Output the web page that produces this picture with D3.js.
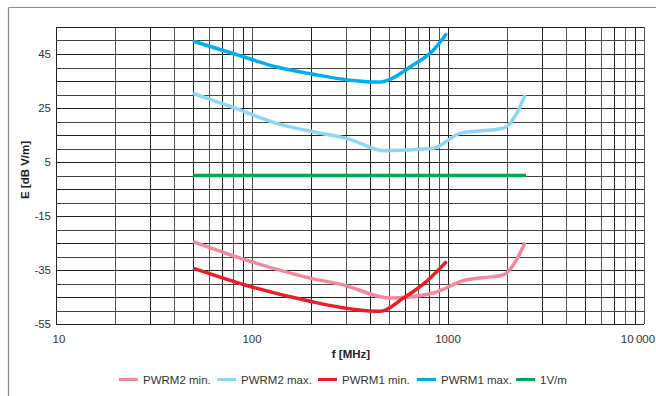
<!DOCTYPE html>
<html>
<head>
<meta charset="utf-8">
<script src="https://cdn.jsdelivr.net/npm/d3@7"></script>
<style>
  body { margin: 0; background: #fff; }
  text { font-family: "Liberation Sans", Arial, sans-serif; fill: #333; }
</style>
</head>
<body>
<svg id="chart" width="656" height="396"></svg>
<script>
// values (frequency in MHz, field strength in dB V/m)
var pwrm2MinF = [50, 98, 198, 292, 506, 841, 1200, 1910, 2240, 2470];
var pwrm2MinE = [-24.5, -31.8, -38.0, -40.5, -45.4, -43.5, -38.9, -36.8, -31.2, -24.8];

var pwrm2MaxF = [50, 80, 134, 205, 316, 468, 841, 1150, 1910, 2240, 2470];
var pwrm2MaxE = [30.4, 25.2, 19.3, 16.2, 13.4, 9.2, 10.1, 15.6, 17.5, 23.0, 29.8];

var pwrm1MinF = [50, 98, 198, 342, 450, 592, 778, 984];
var pwrm1MinE = [-34.3, -41.1, -46.6, -49.7, -50.3, -45.4, -39.2, -31.8];

var pwrm1MaxF = [50, 80, 134, 205, 316, 450, 506, 640, 841, 984];
var pwrm1MaxE = [49.8, 45.2, 40.2, 37.5, 35.3, 34.6, 35.6, 40.2, 46.4, 52.6];

var refF = [50, 2500];
var refE = [0, 0];

var xTickValues = [10, 100, 1000, 10000];
var xTickLabels = ["10", "100", "1000", "10\u2009000"];
var yTickValues = [45, 25, 5, -15, -35, -55];

var seriesNames = ["PWRM2 min.", "PWRM2 max.", "PWRM1 min.", "PWRM1 max.", "1V/m"];
var seriesColors = ["#f4889b", "#8dd6f6", "#ee1c25", "#00aeef", "#00a651"];

var svg = d3.select("#chart");

// frame (top and left only, as in the original)
svg.append("line").attr("x1", 8.5).attr("y1", 7.5).attr("x2", 656).attr("y2", 7.5)
   .attr("stroke", "#8a8a8a").attr("stroke-width", 1.2);
svg.append("line").attr("x1", 8.5).attr("y1", 7.5).attr("x2", 8.5).attr("y2", 396)
   .attr("stroke", "#8a8a8a").attr("stroke-width", 1.2);

var plotLeft = 56, plotRight = 644, plotTop = 27, plotBottom = 324;

var x = d3.scaleLog().domain([10, 10000]).range([plotLeft, plotRight]);
var y = d3.scaleLinear().domain([-55, 55]).range([plotBottom, plotTop]);

// grid
var grid = svg.append("g").attr("class", "grid");
var vLines = [];
[10, 100, 1000].forEach(function(dec) {
   for (var k = 1; k <= 9; k++) vLines.push(dec * k);
});
vLines.push(10000);

grid.selectAll(".v").data(vLines).enter().append("line")
   .attr("class", "v")
   .attr("x1", function(d) { return Math.round(x(d)) + 0.5; })
   .attr("x2", function(d) { return Math.round(x(d)) + 0.5; })
   .attr("y1", plotTop).attr("y2", plotBottom)
   .attr("stroke", function(d, i) { return i % 2 ? "#555" : "#222"; })
   .attr("stroke-width", 1);

grid.selectAll(".h").data(d3.range(-55, 56, 5)).enter().append("line")
   .attr("class", "h")
   .attr("y1", function(d) { return Math.round(y(d)) + 0.5; })
   .attr("y2", function(d) { return Math.round(y(d)) + 0.5; })
   .attr("x1", plotLeft).attr("x2", plotRight)
   .attr("stroke", function(d, i) { return i % 2 ? "#444" : "#222"; })
   .attr("stroke-width", 1);

// tick labels
svg.selectAll(".ylab").data(yTickValues).enter().append("text")
   .attr("class", "ylab")
   .attr("x", 51)
   .attr("y", function(d) { return y(d); })
   .attr("dy", "0.36em")
   .attr("text-anchor", "end")
   .style("font-size", "11.5px")
   .text(function(d) { return d; });

var xOffsets = [3, 0, 0, -6];
svg.selectAll(".xlab").data(xTickValues).enter().append("text")
   .attr("class", "xlab")
   .attr("x", function(d, i) { return x(d) + xOffsets[i]; })
   .attr("y", 343)
   .attr("text-anchor", "middle")
   .style("font-size", "11.5px")
   .text(function(d, i) { return xTickLabels[i]; });

// axis titles
svg.append("text")
   .attr("transform", "translate(29,170) rotate(-90)")
   .attr("text-anchor", "middle")
   .style("font-size", "11.5px").style("font-weight", "bold").style("fill", "#222")
   .text("E [dB V/m]");

svg.append("text")
   .attr("x", 351).attr("y", 358)
   .attr("text-anchor", "middle")
   .style("font-size", "11.5px").style("font-weight", "bold").style("fill", "#222")
   .text("f [MHz]");

// curves
var series = [
   { f: pwrm2MinF, e: pwrm2MinE },
   { f: pwrm2MaxF, e: pwrm2MaxE },
   { f: pwrm1MinF, e: pwrm1MinE },
   { f: pwrm1MaxF, e: pwrm1MaxE },
   { f: refF, e: refE }
];

var line = d3.line()
   .x(function(d) { return x(d[0]); })
   .y(function(d) { return y(d[1]); })
   .curve(d3.curveMonotoneX);

svg.selectAll(".curve").data(series).enter().append("path")
   .attr("class", "curve")
   .attr("fill", "none")
   .attr("stroke", function(d, i) { return seriesColors[i]; })
   .attr("stroke-width", 3.5)
   .attr("d", function(d) { return line(d.f.map(function(v, i) { return [v, d.e[i]]; })); });

// legend
var legendX = [119, 217, 318, 417, 516];
var legend = svg.selectAll(".legend").data(seriesNames).enter().append("g")
   .attr("class", "legend")
   .attr("transform", function(d, i) { return "translate(" + legendX[i] + ",379.5)"; });

legend.append("line")
   .attr("x1", 0).attr("x2", 19).attr("y1", 0).attr("y2", 0)
   .attr("stroke", function(d, i) { return seriesColors[i]; })
   .attr("stroke-width", 3);

legend.append("text")
   .attr("x", 24).attr("dy", "0.36em")
   .style("font-size", "11.5px")
   .text(function(d) { return d; });
</script>
</body>
</html>
